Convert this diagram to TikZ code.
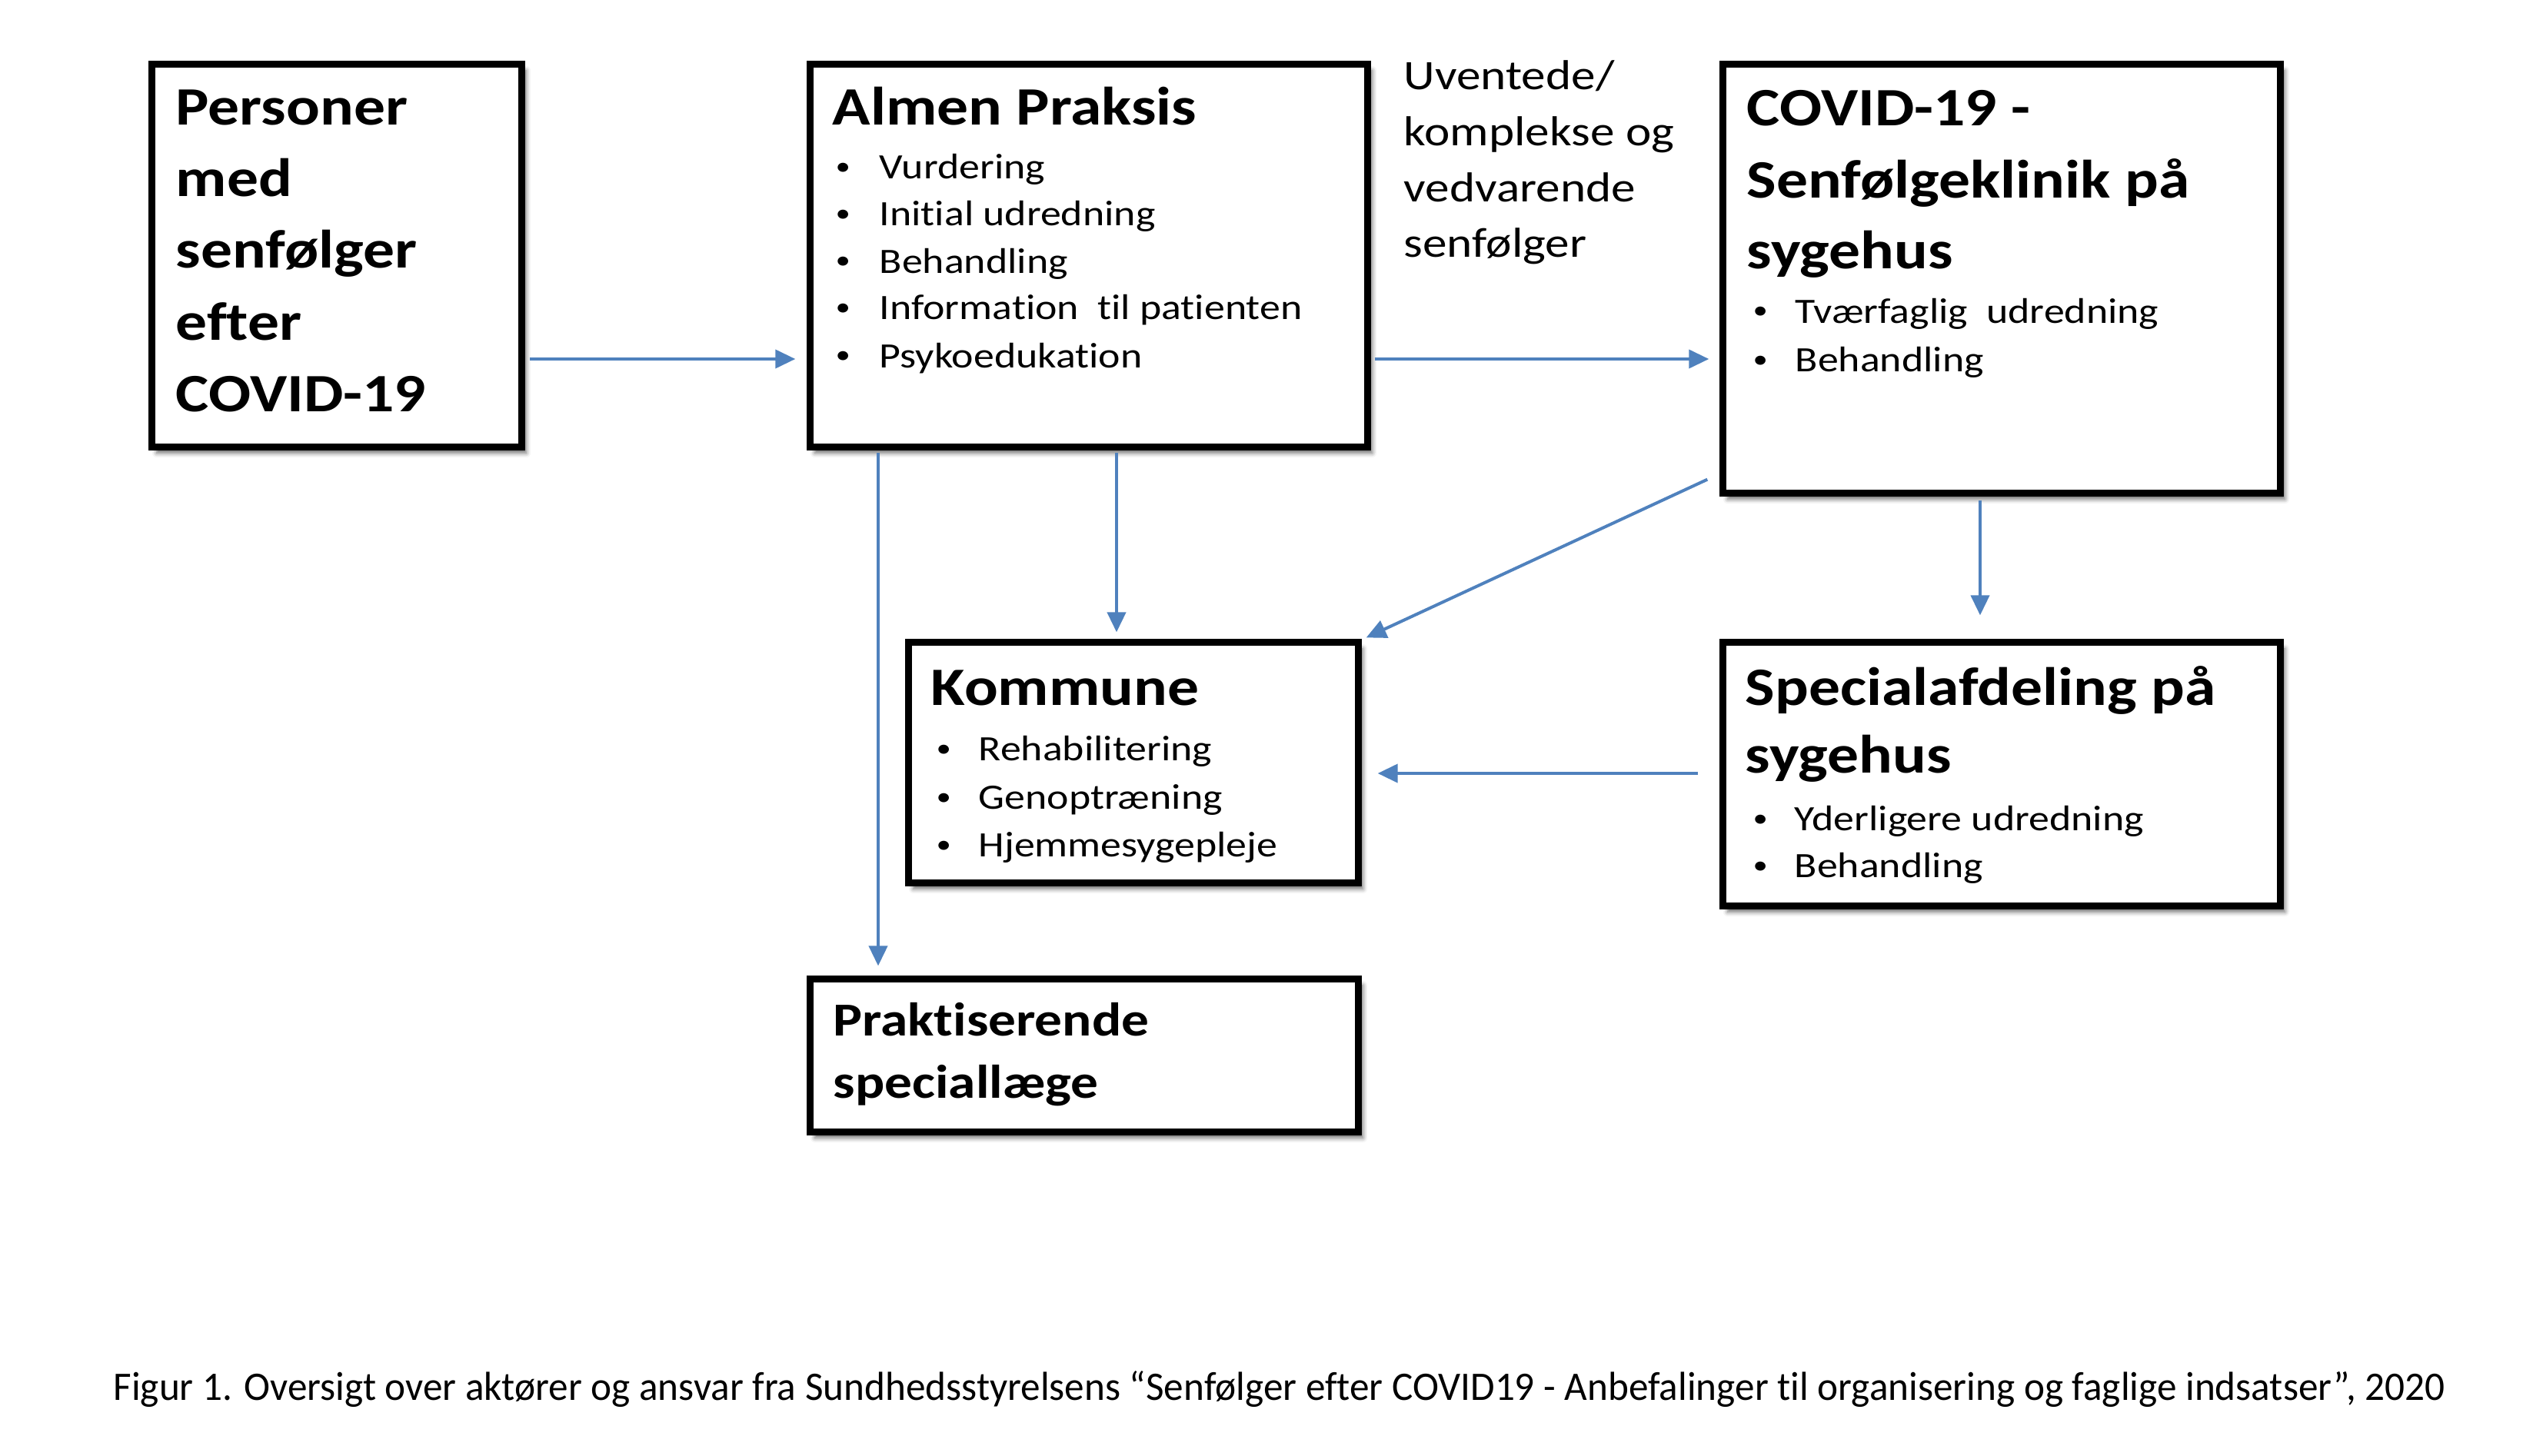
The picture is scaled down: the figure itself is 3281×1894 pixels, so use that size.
\documentclass[tikz,border=0pt]{standalone}
\usepackage{fontspec}
\usepackage{graphicx}
\setmainfont{Carlito}[Ligatures=NoCommon]
\newfontfamily\bx[FakeStretch=1.16,Ligatures=NoCommon]{Carlito}
\usetikzlibrary{arrows.meta,shadows.blur,calc}
\definecolor{arrblue}{RGB}{79,129,189}
\begin{document}
\begin{tikzpicture}[x=0.01cm,y=-0.01cm,
  box/.style={draw=black, line width=0.9mm, fill=white, inner sep=0pt,
    blur shadow={shadow xshift=0.6mm, shadow yshift=-0.8mm, shadow blur radius=0.6mm, shadow opacity=60}},
  ttl/.style={anchor=base west, inner sep=0pt, font=\bx\bfseries\fontsize{20}{24}\selectfont},
  ttls/.style={anchor=base west, inner sep=0pt, font=\bx\bfseries\fontsize{17.5}{21}\selectfont},
  itm/.style={anchor=base west, inner sep=0pt, font=\bx\fontsize{13.2}{16}\selectfont},
  bul/.style={anchor=base west, inner sep=0pt, yshift=0.5mm, font=\bx\fontsize{9.5}{12}\selectfont},
  lbl/.style={anchor=base west, inner sep=0pt, font=\bx\fontsize{15.5}{19}\selectfont},
  arr/.style={draw=arrblue, line width=0.4mm, -{Triangle[length=2.6mm,width=2.4mm]}}
]
\useasboundingbox (0,0) rectangle (3281,1894);

% boxes
\node[box, minimum width=4.80cm, minimum height=4.97cm] (personer) at (438,332.5) {};
\node[box, minimum width=7.24cm, minimum height=4.97cm] (almen) at (1416,332.5) {};
\node[box, minimum width=7.24cm, minimum height=5.57cm] (covid) at (2603,362.5) {};
\node[box, minimum width=5.84cm, minimum height=3.12cm] (kommune) at (1474,992) {};
\node[box, minimum width=7.24cm, minimum height=3.42cm] (spec) at (2603,1007) {};
\node[box, minimum width=7.12cm, minimum height=1.98cm] (prak) at (1410,1373) {};

% Personer text
\node[ttl] (pe1) at (228,163) {Personer};
\node[ttl] (pe2) at (228,255) {med};
\node[ttl] (pe3) at (228,348) {senfølger};
\node[ttl] (pe4) at (228,442) {efter};
\node[ttl] (pe5) at (228,535) {COVID-19};

% Almen Praksis
\node[ttl] (al0) at (1082,163) {Almen Praksis};
\node[bul] (alb1) at (1086,233) {•}; \node[itm] (al1) at (1143,233) {Vurdering};
\node[bul] (alb2) at (1086,294) {•}; \node[itm] (al2) at (1143,294) {Initial udredning};
\node[bul] (alb3) at (1086,355) {•}; \node[itm] (al3) at (1143,355) {Behandling};
\node[bul] (alb4) at (1086,416) {•}; \node[itm] (al4) at (1143,416) {Information\ \ til patienten};
\node[bul] (alb5) at (1086,478) {•}; \node[itm] (al5) at (1143,478) {Psykoedukation};

% label
\node[lbl] (u1) at (1825,117) {Uventede/};
\node[lbl] (u2) at (1825,190) {komplekse og};
\node[lbl] (u3) at (1825,262) {vedvarende};
\node[lbl] (u4) at (1825,334) {senfølger};

% COVID clinic
\node[ttl] (co1) at (2271,164) {COVID-19 -};
\node[ttl] (co2) at (2271,258) {Senfølgeklinik på};
\node[ttl] (co3) at (2271,350) {sygehus};
\node[bul] (cob1) at (2279,420) {•}; \node[itm] (co4) at (2334,420) {Tværfaglig\ \ udredning};
\node[bul] (cob2) at (2279,483) {•}; \node[itm] (co5) at (2334,483) {Behandling};

% Kommune
\node[ttl] (ko0) at (1210,917) {Kommune};
\node[bul] (kob1) at (1217,989) {•}; \node[itm] (ko1) at (1272,989) {Rehabilitering};
\node[bul] (kob2) at (1217,1052) {•}; \node[itm] (ko2) at (1272,1052) {Genoptræning};
\node[bul] (kob3) at (1217,1114) {•}; \node[itm] (ko3) at (1272,1114) {Hjemmesygepleje};

% Specialafdeling
\node[ttl] (sp1) at (2269,917) {Specialafdeling på};
\node[ttl] (sp2) at (2269,1005) {sygehus};
\node[bul] (spb1) at (2279,1080) {•}; \node[itm] (sp3) at (2333,1080) {Yderligere udredning};
\node[bul] (spb2) at (2279,1141) {•}; \node[itm] (sp4) at (2333,1141) {Behandling};

% Praktiserende
\node[ttls] (pr1) at (1083,1347) {Praktiserende};
\node[ttls] (pr2) at (1083,1428) {speciallæge};

% caption
\node[anchor=base west, inner sep=0pt] (cap) at (147,1821)
  {\resizebox{30.3cm}{0.38cm}{Figur 1. Oversigt over aktører og ansvar fra Sundhedsstyrelsens “Senfølger efter COVID19 - Anbefalinger til organisering og faglige indsatser”, 2020}};

% connectors
\coordinate (ya) at (0,467);
\coordinate (yb) at (0,1006);
\coordinate (xa) at (1142,0);
\coordinate (xb) at (1452,0);
\coordinate (xc) at (2575,0);
\draw[arr, shorten <=0.6mm, shorten >=1.5mm] (personer.east |- ya) -- (almen.west |- ya);
\draw[arr, shorten <=0.5mm, shorten >=1.4mm] (almen.east |- ya) -- (covid.west |- ya);
\draw[arr, shorten <=0.3mm, shorten >=1.3mm] (almen.south -| xa) -- (prak.north -| xa);
\draw[arr, shorten <=0.3mm, shorten >=0.9mm] (almen.south -| xb) -- (kommune.north -| xb);
\draw[arr] ($(covid.south west)+(-16,-22)$) -- ($(kommune.north east)+(6,-2)$);
\draw[arr, shorten <=0.5mm, shorten >=3.1mm] (covid.south -| xc) -- (spec.north -| xc);
\draw[arr, shorten <=2.8mm, shorten >=2.1mm] (spec.west |- yb) -- (kommune.east |- yb);
\end{tikzpicture}
\end{document}
